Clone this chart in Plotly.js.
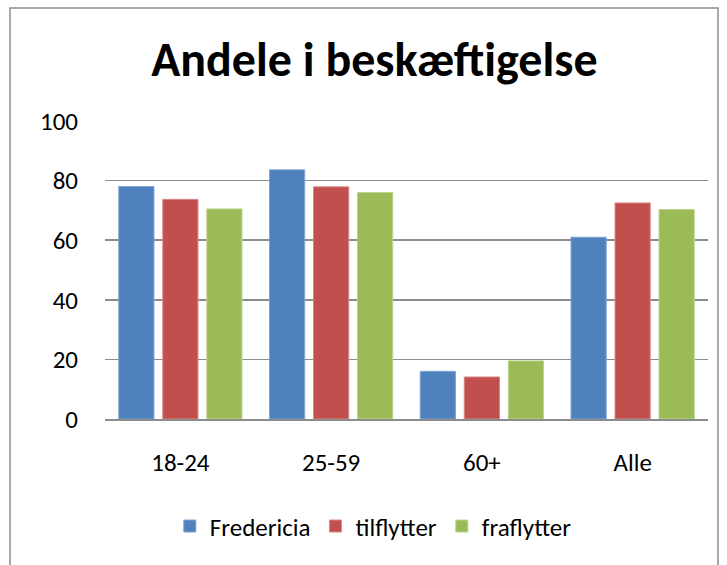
<!DOCTYPE html>
<html>
<head>
<meta charset="utf-8">
<script src="https://cdn.plot.ly/plotly-3.0.1.min.js"></script>
<style>html,body{margin:0;padding:0;background:#fff;}#chart{width:727px;height:565px;}</style>
</head>
<body>
<div id="chart"></div>
<script>
const categories = ["18-24", "25-59", "60+", "Alle"];
const fredericia = [78.0, 83.6, 16.0, 61.0];
const tilflytter = [73.7, 77.9, 14.1, 72.5];
const fraflytter = [70.5, 76.0, 19.5, 70.3];
const seriesNames = ["Fredericia", "tilflytter", "fraflytter"];
const yTicks = [0, 20, 40, 60, 80, 100];

const colors = ["#4F81BD", "#C0504D", "#9BBB59"];
const lineColors = ["#7FA3D3", "#D98785", "#BDD48C"];
const values = [fredericia, tilflytter, fraflytter];

const traces = values.map((v, i) => ({
  type: "bar",
  name: seriesNames[i],
  x: categories,
  y: v,
  marker: {color: colors[i], line: {color: lineColors[i], width: 1}},
  hoverinfo: "x+y+name"
}));

const font = "Calibri, Carlito, 'Liberation Sans Narrow', 'Open Sans', sans-serif";

const layout = {
  width: 727, height: 565,
  margin: {l: 105, r: 19, t: 121, b: 146},
  paper_bgcolor: "#fff", plot_bgcolor: "#fff",
  font: {family: font, size: 25, color: "#000"},
  title: {
    text: "<b>Andele i beskæftigelse</b>",
    font: {family: font, size: 48, color: "#000"},
    x: 0.515, xanchor: "center", y: 0.895, yanchor: "middle"
  },
  barmode: "group",
  bargap: 0.124,
  bargroupgap: 0.2,
  xaxis: {
    type: "category",
    showgrid: false,
    showline: true, linecolor: "#8c8c8c", linewidth: 1.5,
    ticks: "", ticklabelstandoff: 20,
    tickfont: {family: font, size: 25, color: "#000"},
    fixedrange: true
  },
  yaxis: {
    range: [0, 100],
    tickvals: yTicks,
    ticktext: yTicks.map(String),
    showgrid: true, gridcolor: "#8c8c8c", gridwidth: 1.5,
    zeroline: false, showline: false,
    ticks: "", ticklabelstandoff: 26,
    tickfont: {family: font, size: 25, color: "#000"},
    fixedrange: true
  },
  showlegend: true,
  legend: {
    orientation: "h",
    x: 0.445, xanchor: "center",
    y: -0.36, yanchor: "middle",
    font: {family: font, size: 25, color: "#000"},
    itemwidth: 30,
    traceorder: "normal"
  },
  shapes: [{
    type: "rect", xref: "paper", yref: "paper",
    x0: (10 - 105) / 603, x1: (718 - 105) / 603,
    y0: -0.6, y1: (419 - 8) / 298,
    line: {color: "#8c8c8c", width: 1.5},
    fillcolor: "rgba(0,0,0,0)", layer: "below"
  }]
};

Plotly.newPlot("chart", traces, layout, {staticPlot: true, displayModeBar: false});
</script>
</body>
</html>
